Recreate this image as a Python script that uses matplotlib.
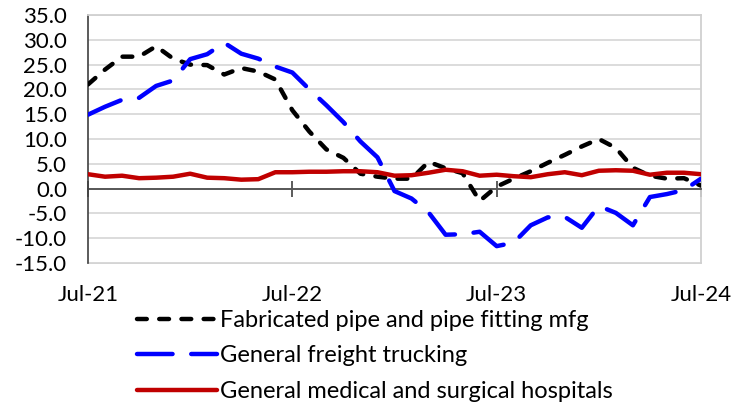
import matplotlib
matplotlib.use("Agg")
import matplotlib.pyplot as plt
import matplotlib.ticker as ticker

plt.rcParams['font.family'] = ['Lato', 'DejaVu Sans']
plt.rcParams['axes.unicode_minus'] = False

# monthly index, Jul-21 .. Jul-24
months = list(range(37))
tick_pos = [0, 12, 24, 36]
tick_labels = ["Jul-21", "Jul-22", "Jul-23", "Jul-24"]

pipe = [21.0, 24.0, 26.6, 26.6, 28.7, 26.2, 25.0, 24.9, 23.0, 24.3,
        23.6, 22.0, 15.8, 11.5, 7.9, 6.2, 3.0, 2.4, 2.0, 2.0,
        5.4, 4.1, 3.1, -2.5, 0.4, 2.0, 3.5, 5.2, 6.8, 8.5,
        10.0, 8.2, 4.2, 2.6, 2.0, 2.1, 0.6]

trucking = [14.9, 16.5, 17.9, 18.3, 20.7, 21.8, 26.1, 27.1, 29.4, 27.2,
            26.2, 24.6, 23.4, 20.0, 16.8, 13.4, 9.5, 6.3, -0.5, -2.0,
            -4.8, -9.3, -9.2, -8.7, -11.6, -10.9, -7.4, -5.8, -5.7, -7.9,
            -3.5, -4.9, -7.4, -1.7, -1.1, -0.3, 2.0]

hospitals = [2.9, 2.4, 2.6, 2.1, 2.2, 2.4, 3.0, 2.2, 2.1, 1.8,
             1.9, 3.3, 3.3, 3.4, 3.4, 3.5, 3.5, 3.3, 2.6, 2.7,
             3.2, 3.8, 3.5, 2.6, 2.8, 2.5, 2.3, 2.9, 3.3, 2.7,
             3.6, 3.7, 3.6, 2.8, 3.2, 3.2, 2.9]

labels = ["Fabricated pipe and pipe fitting mfg",
          "General freight trucking",
          "General medical and surgical hospitals"]

fig = plt.figure(figsize=(7.45, 4.08), dpi=100)
ax = fig.add_axes([88/745, 1-263/408, 613/745, 248/408])

lw = 3.2
l1, = ax.plot(months, pipe, color="black", lw=lw, dashes=(2.2, 2.8),
              dash_capstyle="round", solid_capstyle="round", label=labels[0], zorder=3)
l2, = ax.plot(months, trucking, color="#0000ff", lw=lw, dashes=(8, 4.2),
              dash_capstyle="round", label=labels[1], zorder=4)
l3, = ax.plot(months, hospitals, color="#c00000", lw=lw, solid_capstyle="round",
              label=labels[2], zorder=5)

ax.set_xlim(0, 36)
ax.set_ylim(-15, 35)
ax.yaxis.set_major_locator(ticker.MultipleLocator(5))
ax.yaxis.set_major_formatter(ticker.FormatStrFormatter("%.1f"))
ax.grid(True, axis="y", color="#d9d9d9", lw=1.3, zorder=0)
ax.set_axisbelow(True)

for s in ["top", "right"]:
    ax.spines[s].set_color("#d0d0d0")
    ax.spines[s].set_linewidth(1.3)
ax.spines["left"].set_color("#404040")
ax.spines["left"].set_linewidth(1.2)

# x axis drawn at zero
ax.spines["bottom"].set_position(("data", 0))
ax.spines["bottom"].set_color("#404040")
ax.spines["bottom"].set_linewidth(1.2)
ax.set_xticks(tick_pos)
ax.tick_params(axis="x", direction="inout", length=11, width=1.2,
               color="#404040", labelbottom=False)
ax.tick_params(axis="y", length=0, pad=15, labelsize=16)

# category labels below the plot
sec = ax.secondary_xaxis("bottom")
sec.set_xticks(tick_pos)
sec.set_xticklabels(tick_labels)
sec.tick_params(length=0, pad=16, labelsize=16)
sec.spines["bottom"].set_color("#d0d0d0")
sec.spines["bottom"].set_linewidth(1.3)

fig.legend(handles=[l1, l2, l3], loc="upper left",
           bbox_to_anchor=(125/745, 1-298/408), frameon=False,
           fontsize=17, handlelength=3.4, handletextpad=0.12,
           labelspacing=0.62, borderpad=0)

plt.savefig("out.png", dpi=100)
